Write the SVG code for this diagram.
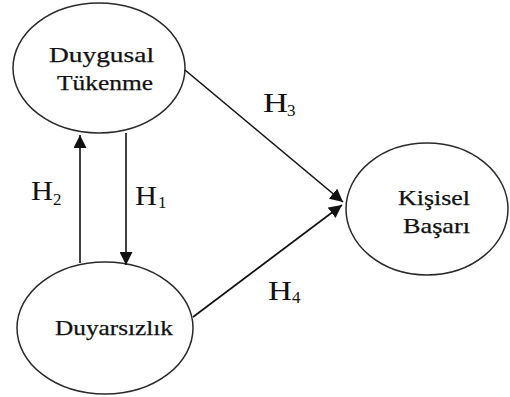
<svg xmlns="http://www.w3.org/2000/svg" width="510" height="397" viewBox="0 0 510 397">
<defs>
<style>
.node ellipse{fill:#fff;stroke:#2a2a2a;stroke-width:1.5}
.lbl{font-family:"Liberation Serif","Times New Roman",serif;font-size:21px;fill:#111;stroke:#111;stroke-width:0.25}
.h{font-family:"Liberation Serif","Times New Roman",serif;font-size:27px;fill:#111}
.sub{font-family:"Liberation Serif","Times New Roman",serif;font-size:17px;fill:#111}
.conn line{stroke:#111;stroke-width:1.6}
</style>
<marker id="ah" markerWidth="13" markerHeight="13" refX="13" refY="6.5" orient="auto" markerUnits="userSpaceOnUse">
<path d="M0,0 L13,6.5 L0,13 Z" fill="#111"/>
</marker>
</defs>
<rect width="510" height="397" fill="#fff"/>
<g id="n-duygusal" class="node">
<ellipse cx="99" cy="68" rx="86" ry="65"/>
<text class="lbl" x="49" y="62" textLength="105" lengthAdjust="spacingAndGlyphs">Duygusal</text>
<text class="lbl" x="57" y="90" textLength="96" lengthAdjust="spacingAndGlyphs">Tükenme</text>
</g>
<g id="n-duyarsizlik" class="node">
<ellipse cx="105" cy="328" rx="88" ry="66"/>
<text class="lbl" x="55" y="335" textLength="118" lengthAdjust="spacingAndGlyphs">Duyarsızlık</text>
</g>
<g id="n-kisisel" class="node">
<ellipse cx="427" cy="209" rx="81" ry="66"/>
<text class="lbl" x="398" y="205" textLength="72" lengthAdjust="spacingAndGlyphs">Kişisel</text>
<text class="lbl" x="403" y="233" textLength="67" lengthAdjust="spacingAndGlyphs">Başarı</text>
</g>
<g id="connectors" class="conn">
<line x1="126" y1="133" x2="126" y2="265" marker-end="url(#ah)"/>
<line x1="80" y1="263" x2="80" y2="135" marker-end="url(#ah)"/>
<line x1="185" y1="70" x2="343" y2="202" marker-end="url(#ah)"/>
<line x1="193" y1="317" x2="342" y2="205" marker-end="url(#ah)"/>
</g>
<g id="labels">
<text class="h" x="31" y="200" textLength="22" lengthAdjust="spacingAndGlyphs">H</text><text class="sub" x="53" y="205">2</text>
<text class="h" x="135" y="205" textLength="22" lengthAdjust="spacingAndGlyphs">H</text><text class="sub" x="158" y="208">1</text>
<text class="h" x="263" y="112" textLength="25" lengthAdjust="spacingAndGlyphs">H</text><text class="sub" x="287" y="116">3</text>
<text class="h" x="268" y="300" textLength="24" lengthAdjust="spacingAndGlyphs">H</text><text class="sub" x="292" y="303">4</text>
</g>
</svg>
